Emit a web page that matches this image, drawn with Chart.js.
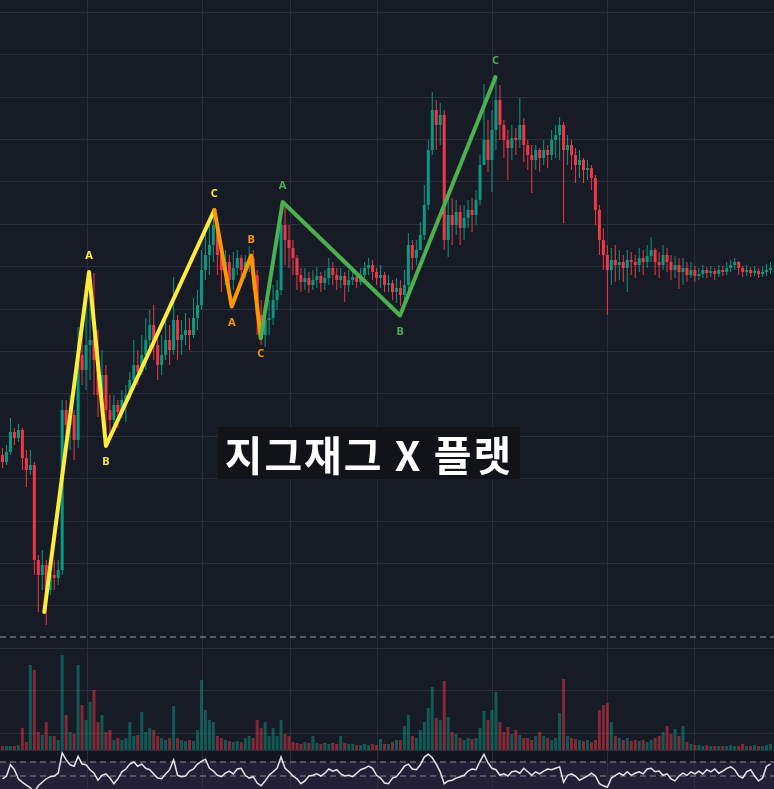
<!DOCTYPE html>
<html><head><meta charset="utf-8">
<script src="https://cdn.jsdelivr.net/npm/chart.js@4/dist/chart.umd.min.js"></script>
<style>
html,body{margin:0;padding:0;background:#171b26;}
#wrap{position:relative;width:774px;height:789px;overflow:hidden;}
#c{display:block;}
#title{position:absolute;left:218px;top:427px;width:302px;height:52px;background:#111318;color:#ffffff;
font-family:"Noto Sans CJK KR","Noto Sans",sans-serif;font-weight:700;font-size:41px;line-height:52px;
letter-spacing:2px;text-align:center;white-space:nowrap;}
</style></head><body>
<div id="wrap"><canvas id="c" width="774" height="789"></canvas><div id="title">지그재그 X 플랫</div></div>
<script>
// ---- data (price units, one candle per slot) ----
const firstOpen = 345;
const closes = [338,348,368,362,370,342,330,335,240,225,
235,210,225,222,230,390,375,385,360,445,
430,455,460,440,405,425,390,380,395,388,
400,405,420,435,428,445,460,475,455,435,
445,460,450,480,460,465,470,465,482,495,
530,545,555,575,545,530,538,520,532,542,
530,538,542,525,485,465,480,482,500,510,
575,560,552,542,525,518,522,515,520,524,
517,522,532,525,520,524,515,520,523,518,
525,532,535,528,522,525,515,517,508,512,
505,515,555,542,550,565,595,650,690,675,
685,560,585,575,588,572,582,590,585,600,
635,660,640,670,700,675,660,652,662,660,
675,655,645,640,650,642,650,645,660,665,
675,650,655,645,635,640,630,632,622,590,
560,545,530,540,535,538,532,540,538,535,
542,538,544,550,538,535,545,538,530,535,
528,532,525,530,524,526,530,527,529,526,
530,528,532,535,538,532,528,530,527,529,
526,528,530,532];
const highs = [352,355,382,372,376,372,350,350,338,245,
250,240,240,240,240,400,400,405,390,473,
470,500,515,527,470,450,435,405,405,400,
410,415,428,460,450,465,482,490,495,465,
465,480,475,523,485,480,487,482,502,510,
550,572,575,590,582,560,550,545,548,550,
545,545,554,550,530,500,495,500,515,520,
595,598,575,560,545,532,532,528,530,533,
528,530,542,538,532,532,528,530,530,528,
532,538,542,540,532,535,528,525,520,522,
520,530,567,560,560,578,615,660,708,700,
697,690,605,602,600,595,595,600,602,610,
645,716,680,690,723,715,680,670,675,672,
702,682,660,655,655,652,660,655,670,675,
683,678,665,660,652,650,642,640,635,625,
595,572,555,552,555,550,545,550,548,545,
552,550,555,563,552,548,555,552,545,544,
542,542,538,538,534,532,535,533,534,532,
535,534,538,540,542,539,534,535,533,534,
532,533,536,538];
const lows = [332,335,345,355,358,330,313,325,225,188,
210,175,205,210,215,225,360,350,340,352,
415,410,420,405,383,395,370,365,375,372,
382,378,400,410,415,425,430,445,440,420,
425,440,435,445,440,445,455,450,462,470,
490,520,525,538,525,508,515,500,510,525,
520,522,528,510,465,455,453,465,475,490,
505,535,532,525,510,508,510,507,510,512,
508,510,515,515,510,512,498,508,515,512,
515,522,525,520,515,512,508,508,500,497,
494,500,510,530,535,550,560,590,645,650,
655,550,543,555,565,555,560,572,568,575,
595,635,628,608,650,660,642,620,640,645,
652,638,630,607,630,628,635,632,640,642,
640,577,635,630,617,622,617,620,610,575,
545,530,485,515,518,520,518,508,525,522,
528,525,532,538,525,522,530,528,520,522,
511,515,518,522,518,520,522,522,523,520,
523,524,525,528,530,525,523,524,523,524,
522,523,524,526];
const volumes = [4,4,4,4,5,22,8,85,80,18,
15,28,14,14,10,95,35,18,16,85,
45,30,48,60,28,35,18,20,10,12,
10,12,28,14,15,38,18,22,20,14,
12,10,12,44,12,10,9,10,9,20,
70,40,30,28,14,12,10,9,8,9,
8,12,14,12,30,22,28,14,22,14,
30,16,14,8,7,6,8,7,14,7,
6,7,6,7,6,14,7,6,6,5,
5,6,5,6,5,11,6,6,8,10,
10,24,35,14,12,20,28,42,63,32,
30,69,33,18,16,12,10,12,11,12,
22,39,30,40,58,28,18,23,16,20,
15,12,12,10,14,18,14,12,10,12,
37,71,14,12,11,10,9,10,8,10,
40,45,47,28,14,12,10,12,9,10,
9,10,8,10,12,14,18,24,16,21,
14,24,8,6,5,5,4,5,4,4,
4,4,4,5,4,4,6,4,4,5,
4,4,5,6];
const rsi = [46,50,66,59,46,41,37,33,27,36,
41,46,49,50,54,83,73,66,64,78,
67,66,59,54,44,51,53,47,39,46,
56,60,67,70,64,67,61,59,53,47,
46,53,59,73,51,49,50,57,60,67,
71,74,61,57,51,49,54,57,53,60,
61,51,47,49,40,36,43,51,56,61,
77,61,56,50,46,39,43,50,51,53,
50,54,60,57,59,53,50,51,49,54,
59,61,64,61,51,47,40,39,47,49,
56,64,67,60,59,66,77,81,76,67,
56,39,43,44,47,49,51,57,60,59,
71,81,69,61,59,51,53,50,56,57,
54,61,56,51,56,53,57,60,59,61,
63,41,51,53,50,44,47,50,54,50,
39,36,34,47,51,54,51,56,51,54,
56,53,60,61,56,57,51,53,46,43,
50,54,51,56,53,57,53,59,56,60,
54,57,61,63,59,50,47,56,59,50,
43,47,64,67];
// time grid (period starts, candle index) and price grid
const timeGridIdx = [21.375, 50.375, 72.375, 94.125, 123.125, 152.125, 173.875];
const priceGridTop = 787.7, priceGridStep = 42.4, priceGridLowest = 60;
const alertPrice = 163;
const rsiLevels = [70, 50];
// zigzag waves
const yellowX = [10.5, 21.75, 26, 53.25], yellowY = [188, 528, 354, 590];
const orangeX = [53.25, 57.6, 62.5, 64.9], orangeY = [590, 493.5, 544.5, 462];
const greenX = [64.9, 70.4, 99.9, 123.9], greenY = [462, 598, 484.5, 723];
const waveLabels = ['', 'A', 'B', 'C'];

// ---- build ----
const N = closes.length;
const opens = closes.map((c, i) => i === 0 ? firstOpen : closes[i - 1]);
const UP = '#089981', DN = '#f23645';
const isUp = closes.map((c, i) => c >= opens[i]);
const candleColors = isUp.map(u => u ? UP : DN);
const volColors = isUp.map(u => u ? 'rgba(8,153,129,0.5)' : 'rgba(242,54,69,0.5)');
const idx = closes.map((_, i) => i);
const X_MIN = -0.625, X_MAX = N - 1 + 0.875;
const pts = (xs, ys) => xs.map((x, j) => ({x, y: ys[j]}));
const hline = (v) => [{x: X_MIN, y: v}, {x: X_MAX, y: v}];

const barCommon = {grouped: false, borderWidth: 0, inflateAmount: 0, minBarLength: 1};

const datasets = [
  Object.assign({type: 'bar', label: 'volume', yAxisID: 'yv', order: 10,
    data: idx.map(i => ({x: i, y: volumes[i]})), backgroundColor: volColors, barThickness: 3}, barCommon),
  Object.assign({type: 'bar', label: 'wick', yAxisID: 'y', order: 6,
    data: idx.map(i => ({x: i, y: [lows[i], highs[i]]})), backgroundColor: candleColors, barThickness: 1}, barCommon),
  Object.assign({type: 'bar', label: 'body', yAxisID: 'y', order: 5,
    data: idx.map(i => ({x: i, y: [opens[i], closes[i]]})), backgroundColor: candleColors, barThickness: 3}, barCommon),
  {type: 'line', label: 'alert', yAxisID: 'y', order: 4, data: hline(alertPrice),
    borderColor: '#9a9da6', borderWidth: 1, borderDash: [6, 4], pointRadius: 0},
  {type: 'line', label: 'rsi70', yAxisID: 'yr', order: 4, data: hline(rsiLevels[0]),
    borderColor: '#8a8d96', borderWidth: 1, borderDash: [6, 4], pointRadius: 0},
  {type: 'line', label: 'rsi50', yAxisID: 'yr', order: 4, data: hline(rsiLevels[1]),
    borderColor: '#8a8d96', borderWidth: 1, borderDash: [6, 4], pointRadius: 0},
  {type: 'line', label: 'rsi', yAxisID: 'yr', order: 3, data: idx.map(i => ({x: i, y: rsi[i]})),
    borderColor: '#e6e6ea', borderWidth: 1.5, pointRadius: 0, tension: 0},
  {type: 'line', label: 'yellow', yAxisID: 'y', order: 2, data: pts(yellowX, yellowY),
    borderColor: '#ffeb3b', borderWidth: 4, pointRadius: 0, tension: 0, borderJoinStyle: 'round', borderCapStyle: 'round',
    waveLabels: waveLabels, waveSide: [0, -1, 1, -1]},
  {type: 'line', label: 'orange', yAxisID: 'y', order: 1, data: pts(orangeX, orangeY),
    borderColor: '#ff9800', borderWidth: 4, pointRadius: 0, tension: 0, borderJoinStyle: 'round', borderCapStyle: 'round',
    waveLabels: waveLabels, waveSide: [0, 1, -1, 1]},
  {type: 'line', label: 'green', yAxisID: 'y', order: 0, data: pts(greenX, greenY),
    borderColor: '#4caf50', borderWidth: 4, pointRadius: 0, tension: 0, borderJoinStyle: 'round', borderCapStyle: 'round',
    waveLabels: waveLabels, waveSide: [0, -1, 1, -1]}
];

const panePlugin = {
  id: 'panes',
  beforeDraw(chart) {
    const {ctx, width, height, scales} = chart;
    ctx.save();
    ctx.fillStyle = '#171b26';
    ctx.fillRect(0, 0, width, height);
    const stripTop = Math.round(scales.yv.getPixelForValue(0));
    const bandTop = Math.round(scales.yr.getPixelForValue(rsiLevels[0]));
    ctx.fillStyle = '#131620';
    ctx.fillRect(0, stripTop, width, height - stripTop);
    ctx.fillStyle = '#221f36';
    ctx.fillRect(0, bandTop, width, height - bandTop);
    ctx.fillStyle = '#2a2e39';
    ctx.fillRect(0, stripTop, width, 1);
    ctx.restore();
  }
};

const wavePlugin = {
  id: 'waves',
  afterDatasetsDraw(chart) {
    const ctx = chart.ctx;
    chart.data.datasets.forEach((ds, di) => {
      if (!ds.waveLabels) return;
      const meta = chart.getDatasetMeta(di);
      ctx.save();
      ctx.font = 'bold 11px "Noto Sans", "DejaVu Sans", sans-serif';
      ctx.fillStyle = ds.borderColor;
      ctx.textAlign = 'center';
      ctx.textBaseline = 'middle';
      meta.data.forEach((pt, j) => {
        const lab = ds.waveLabels[j];
        if (!lab) return;
        ctx.fillText(lab, pt.x, pt.y + ds.waveSide[j] * 16);
      });
      ctx.restore();
    });
  }
};

new Chart(document.getElementById('c'), {
  type: 'bar',
  data: {datasets},
  options: {
    responsive: false, maintainAspectRatio: false, animation: false, devicePixelRatio: 1,
    events: [],
    layout: {padding: 0},
    plugins: {legend: {display: false}, tooltip: {enabled: false}},
    scales: {
      x: {type: 'linear', min: X_MIN, max: X_MAX, offset: false, display: true,
        ticks: {display: false}, border: {display: false},
        grid: {color: '#2a2e39', drawTicks: false, offset: false, lineWidth: 1},
        afterBuildTicks: s => { s.ticks = timeGridIdx.map(v => ({value: v})); }},
      y: {type: 'linear', min: 11, max: 800, display: true, position: 'right',
        ticks: {display: false}, border: {display: false},
        grid: {color: '#2a2e39', drawTicks: false, lineWidth: 1},
        afterBuildTicks: s => {
          const t = [];
          for (let v = priceGridTop; v > priceGridLowest; v -= priceGridStep) t.push({value: v});
          s.ticks = t;
        }},
      yv: {type: 'linear', min: -39, max: 750, display: false},
      yr: {type: 'linear', min: 31.43, max: 1158.57, display: false}
    }
  },
  plugins: [panePlugin, wavePlugin]
});
</script>
</body></html>
